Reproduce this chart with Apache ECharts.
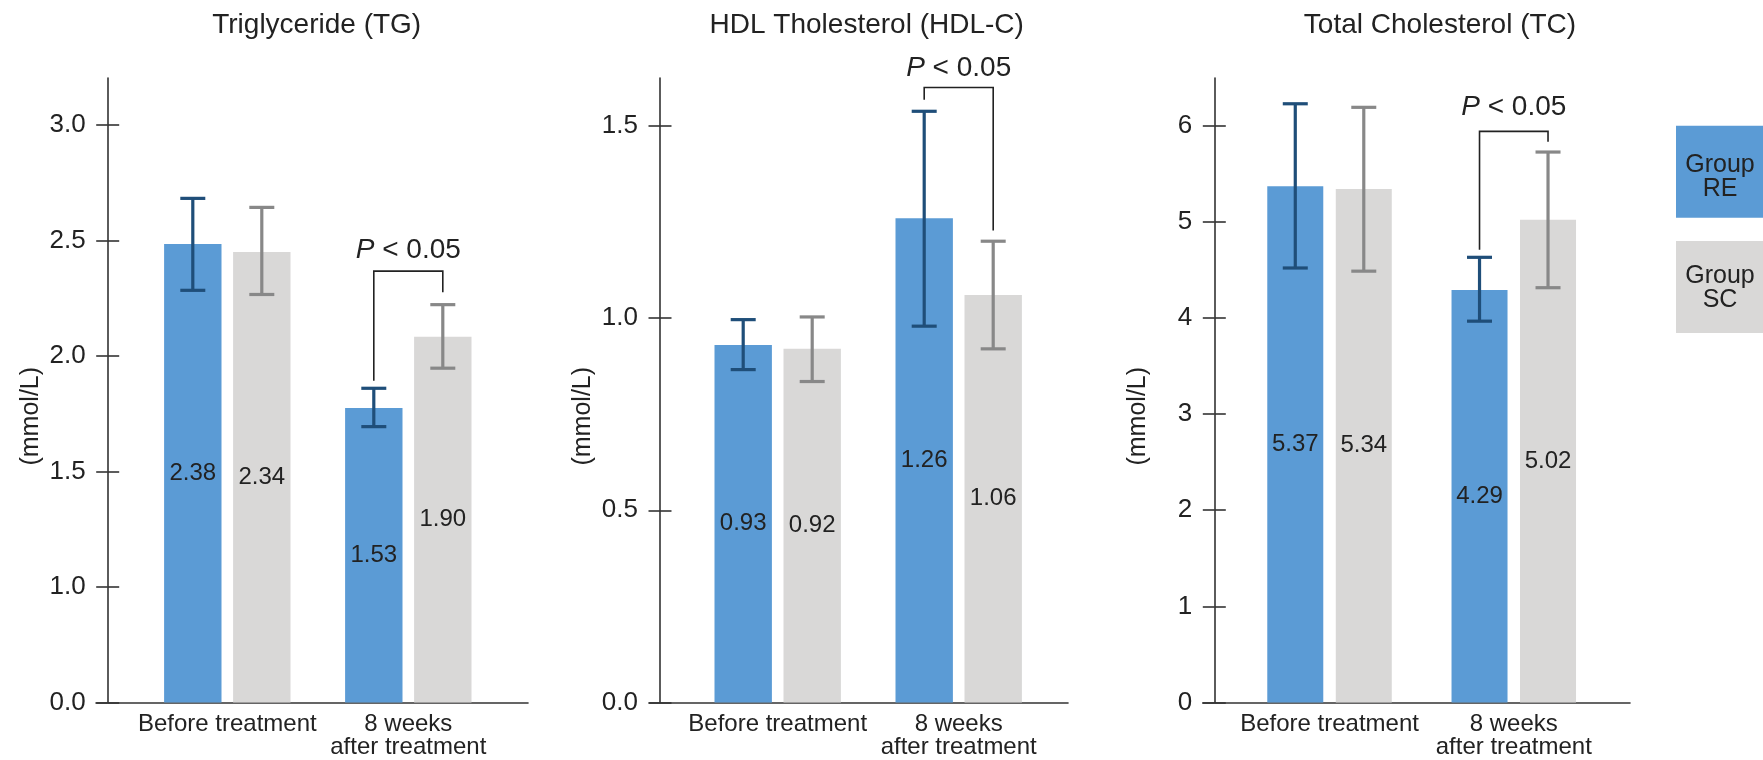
<!DOCTYPE html>
<html><head><meta charset="utf-8">
<script src="https://cdn.jsdelivr.net/npm/echarts@6/dist/echarts.min.js"></script>
<style>html,body{margin:0;padding:0;background:#fff}#c{width:1763px;height:760px}</style>
</head><body><div id="c"></div>
<script>
// ---------------- data ----------------
const categories = ['Before treatment', '8 weeks\nafter treatment'];
const panelTitles = ['Triglyceride (TG)', 'HDL Tholesterol (HDL-C)', 'Total Cholesterol (TC)'];
const groupNames = ['Group\nRE', 'Group\nSC'];
const yAxisName = '(mmol/L)';

// Triglyceride: bar heights as drawn, printed labels, error bars [low, high]
const tgRE = [2.485, 1.775];
const tgSC = [2.450, 2.083];
const tgRELabels = ['2.38', '1.53'];
const tgSCLabels = ['2.34', '1.90'];
const tgREErr = [[2.284, 2.682], [1.694, 1.860]];
const tgSCErr = [[2.266, 2.643], [1.947, 2.222]];
const tgTicks = [0.5, 1.0, 1.5, 2.0, 2.5, 3.0];
const tgTickLabels = ['0.0', '1.0', '1.5', '2.0', '2.5', '3.0'];
const tgRange = [0.5, 3.203];
const tgBracket = [2.367, 1.893, 2.276, 2.459]; // top, left end, right end, text centre

// HDL cholesterol
const hdlRE = [0.93, 1.26];
const hdlSC = [0.92, 1.06];
const hdlRELabels = ['0.93', '1.26'];
const hdlSCLabels = ['0.92', '1.06'];
const hdlREErr = [[0.866, 0.996], [0.979, 1.538]];
const hdlSCErr = [[0.835, 1.003], [0.920, 1.200]];
const hdlTicks = [0, 0.5, 1.0, 1.5];
const hdlTickLabels = ['0.0', '0.5', '1.0', '1.5'];
const hdlRange = [0, 1.6246];
const hdlBracket = [1.600, 1.568, 1.228, 1.651];

// Total cholesterol
const tcRE = [5.37, 4.29];
const tcSC = [5.34, 5.02];
const tcRELabels = ['5.37', '4.29'];
const tcSCLabels = ['5.34', '5.02'];
const tcREErr = [[4.519, 6.227], [3.966, 4.630]];
const tcSCErr = [[4.486, 6.190], [4.314, 5.725]];
const tcTicks = [0, 1, 2, 3, 4, 5, 6];
const tcTickLabels = ['0', '1', '2', '3', '4', '5', '6'];
const tcRange = [0, 6.495];
const tcBracket = [5.940, 4.709, 5.832, 6.188];

// ---------------- style / layout ----------------
const FONT = '"Liberation Sans", Arial, Helvetica, sans-serif';
const TXT = '#222222';
const AX = '#333333';
const RE_COLOR = '#5b9bd5', SC_COLOR = '#d9d8d7';
const RE_ERR = '#1f4e79', SC_ERR = '#888888';
const TOP = 78, HEIGHT = 624.5;
const layout = [
  {plotLeft: 136.8, plotWidth: 362, axisX: 107.7, frameLeft: 96, frameRight: 528, barWidth: 57.4, gap: 11.6, titleX: 311.7},
  {plotLeft: 687.2, plotWidth: 362, axisX: 660, frameLeft: 649.3, frameRight: 1068, barWidth: 57.4, gap: 11.6, titleX: 861.7},
  {plotLeft: 1237.4, plotWidth: 368.5, axisX: 1214.3, frameLeft: 1202.7, frameRight: 1630, barWidth: 56, gap: 12.5, titleX: 1435}
];

const panels = [
  {re: tgRE, sc: tgSC, reL: tgRELabels, scL: tgSCLabels, reE: tgREErr, scE: tgSCErr, ticks: tgTicks, tickL: tgTickLabels, range: tgRange, br: tgBracket},
  {re: hdlRE, sc: hdlSC, reL: hdlRELabels, scL: hdlSCLabels, reE: hdlREErr, scE: hdlSCErr, ticks: hdlTicks, tickL: hdlTickLabels, range: hdlRange, br: hdlBracket},
  {re: tcRE, sc: tcSC, reL: tcRELabels, scL: tcSCLabels, reE: tcREErr, scE: tcSCErr, ticks: tcTicks, tickL: tcTickLabels, range: tcRange, br: tcBracket}
];

const grids = [], xAxes = [], yAxes = [], series = [], titles = [];

function errRender(offset, color) {
  return function (params, api) {
    const c = api.value(0);
    const lo = api.coord([c, api.value(1)]);
    const hi = api.coord([c, api.value(2)]);
    const cx = lo[0] + offset, hw = 12.5;
    const st = {stroke: color, lineWidth: 3.2};
    return {type: 'group', children: [
      {type: 'line', shape: {x1: cx, y1: hi[1], x2: cx, y2: lo[1]}, style: st},
      {type: 'line', shape: {x1: cx - hw, y1: hi[1], x2: cx + hw, y2: hi[1]}, style: st},
      {type: 'line', shape: {x1: cx - hw, y1: lo[1], x2: cx + hw, y2: lo[1]}, style: st}
    ]};
  };
}

function bracketRender(offset) {
  return function (params, api) {
    const c = api.value(0);
    const top = api.coord([c, api.value(1)]);
    const le = api.coord([c, api.value(2)]);
    const re = api.coord([c, api.value(3)]);
    const tx = api.coord([c, api.value(4)]);
    const xl = top[0] - offset, xr = top[0] + offset;
    return {type: 'group', children: [
      {type: 'polyline', shape: {points: [[xl, le[1]], [xl, top[1]], [xr, top[1]], [xr, re[1]]]},
       style: {stroke: '#222', lineWidth: 1.6, fill: null}},
      {type: 'text', style: {x: top[0], y: tx[1], text: '{i|P} < 0.05', align: 'center', verticalAlign: 'middle',
        fontSize: 28, fontFamily: FONT, fill: TXT,
        rich: {i: {fontStyle: 'italic', fontSize: 28, fontFamily: FONT, fill: TXT}}}}
    ]};
  };
}

panels.forEach((p, i) => {
  const L = layout[i];
  const off = (L.barWidth + L.gap) / 2;
  const gP = grids.length;
  grids.push({left: L.plotLeft, top: TOP, width: L.plotWidth, height: HEIGHT});
  grids.push({left: L.frameLeft, top: TOP, width: L.frameRight - L.frameLeft, height: HEIGHT});
  const xi = xAxes.length;
  xAxes.push({type: 'category', gridIndex: gP, position: 'bottom', data: categories,
    axisLine: {show: false}, axisTick: {show: false},
    axisLabel: {interval: 0, margin: 10, fontSize: 24, lineHeight: 23, color: TXT, fontFamily: FONT}});
  xAxes.push({type: 'value', gridIndex: gP + 1, position: 'bottom', min: 0, max: 1,
    axisLine: {show: true, onZero: false, lineStyle: {color: AX, width: 1.6}},
    axisTick: {show: false}, axisLabel: {show: false}, splitLine: {show: false}});
  const yi = yAxes.length;
  const fmt = v => { const k = p.ticks.findIndex(t => Math.abs(t - v) < 1e-6); return k >= 0 ? p.tickL[k] : ''; };
  yAxes.push({type: 'value', gridIndex: gP, position: 'left', min: p.range[0], max: p.range[1], offset: L.plotLeft - L.axisX,
    axisLine: {show: true, onZero: false, lineStyle: {color: AX, width: 1.6}},
    axisTick: {show: true, inside: false, length: 11.5, lineStyle: {color: AX, width: 1.6}, customValues: p.ticks},
    axisLabel: {show: true, margin: 22, fontSize: 26, color: TXT, fontFamily: FONT, formatter: fmt, customValues: p.ticks},
    splitLine: {show: false},
    name: yAxisName, nameLocation: 'middle', nameGap: 64, nameRotate: 90,
    nameTextStyle: {fontSize: 25, color: TXT, fontFamily: FONT, padding: [0, 52, 0, 0]}});
  yAxes.push({type: 'value', gridIndex: gP, position: 'left', min: p.range[0], max: p.range[1], offset: L.plotLeft - L.axisX,
    axisLine: {show: false, onZero: false},
    axisTick: {show: true, inside: true, length: 11.5, lineStyle: {color: AX, width: 1.6}, customValues: p.ticks},
    axisLabel: {show: false}, splitLine: {show: false}});
  yAxes.push({type: 'value', gridIndex: gP + 1, position: 'left', min: 0, max: 1, show: false});

  const base = p.range[0];
  const lbl = (arr) => ({show: true, position: 'inside', fontSize: 24, color: TXT, fontFamily: FONT,
    formatter: (d) => arr[d.dataIndex]});
  const common = {type: 'bar', xAxisIndex: xi, yAxisIndex: yi, barWidth: L.barWidth,
    barGap: (L.gap / L.barWidth * 100) + '%', silent: true};
  series.push(Object.assign({}, common, {name: 'reBase' + i, stack: 're' + i, data: p.re.map(() => base), itemStyle: {color: 'rgba(0,0,0,0)'}}));
  series.push(Object.assign({}, common, {name: groupNames[0], stack: 're' + i, data: p.re.map(v => v - base), itemStyle: {color: RE_COLOR}, label: lbl(p.reL)}));
  series.push(Object.assign({}, common, {name: 'scBase' + i, stack: 'sc' + i, data: p.sc.map(() => base), itemStyle: {color: 'rgba(0,0,0,0)'}}));
  series.push(Object.assign({}, common, {name: groupNames[1], stack: 'sc' + i, data: p.sc.map(v => v - base), itemStyle: {color: SC_COLOR}, label: lbl(p.scL)}));
  series.push({type: 'custom', xAxisIndex: xi, yAxisIndex: yi, silent: true, clip: false, z: 5,
    renderItem: errRender(-off, RE_ERR), data: p.reE.map((e, k) => [k, e[0], e[1]]), encode: {x: 0, y: [1, 2]}});
  series.push({type: 'custom', xAxisIndex: xi, yAxisIndex: yi, silent: true, clip: false, z: 5,
    renderItem: errRender(off, SC_ERR), data: p.scE.map((e, k) => [k, e[0], e[1]]), encode: {x: 0, y: [1, 2]}});
  series.push({type: 'custom', xAxisIndex: xi, yAxisIndex: yi, silent: true, clip: false, z: 6,
    renderItem: bracketRender(off), data: [[1, p.br[0], p.br[1], p.br[2], p.br[3]]], encode: {x: 0, y: [1, 2]}});

  titles.push({text: panelTitles[i], left: L.titleX, top: 6, textAlign: 'center',
    textStyle: {fontSize: 28, fontWeight: 'normal', color: TXT, fontFamily: FONT}});
});

const legendGraphics = [
  {type: 'rect', left: 1676, top: 125.7, shape: {width: 88, height: 92}, style: {fill: RE_COLOR}},
  {type: 'text', x: 1720, y: 177, style: {text: groupNames[0], align: 'center', verticalAlign: 'middle', fontSize: 25, lineHeight: 24, fontFamily: FONT, fill: TXT}},
  {type: 'rect', left: 1676, top: 241, shape: {width: 88, height: 92}, style: {fill: SC_COLOR}},
  {type: 'text', x: 1720, y: 288.5, style: {text: groupNames[1], align: 'center', verticalAlign: 'middle', fontSize: 25, lineHeight: 24, fontFamily: FONT, fill: TXT}}
];

const chart = echarts.init(document.getElementById('c'), null, {renderer: 'canvas'});
chart.setOption({
  backgroundColor: '#ffffff',
  animation: false,
  title: titles,
  grid: grids,
  xAxis: xAxes,
  yAxis: yAxes,
  series: series,
  graphic: legendGraphics
});
</script></body></html>
